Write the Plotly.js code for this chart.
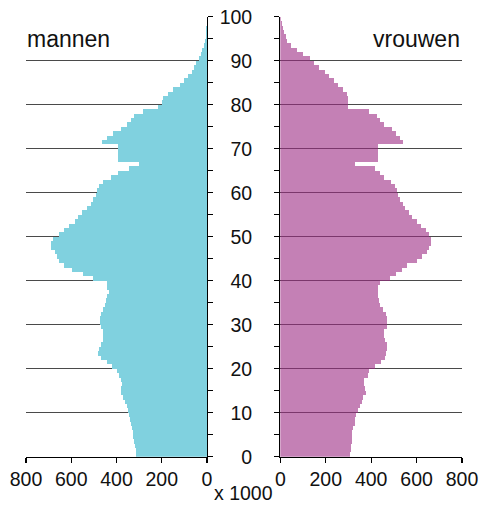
<!DOCTYPE html>
<html><head><meta charset="utf-8">
<script src="https://cdn.plot.ly/plotly-3.0.1.min.js"></script>
<style>html,body{margin:0;padding:0;background:#fff}#chart{width:481px;height:507px}</style>
</head><body><div id="chart"></div>
<script>
const ages = [0,1,2,3,4,5,6,7,8,9,10,11,12,13,14,15,16,17,18,19,20,21,22,23,24,25,26,27,28,29,
  30,31,32,33,34,35,36,37,38,39,40,41,42,43,44,45,46,47,48,49,50,51,52,53,54,55,56,57,58,59,
  60,61,62,63,64,65,66,67,68,69,70,71,72,73,74,75,76,77,78,79,80,81,82,83,84,85,86,87,88,89,
  90,91,92,93,94,95,96,97,98,99];
const mannen = [316,316,318,322,326,326,330,336,340,344,
  350,354,362,372,382,380,376,382,388,400,
  420,440,468,480,476,468,460,458,460,468,
  472,473,470,460,452,445,440,434,440,442,
  505,550,595,630,652,662,672,688,690,682,
  655,630,608,585,568,552,532,512,502,492,
  485,478,460,425,395,345,302,392,392,392,
  392,465,440,415,380,355,335,322,281,215,
  200,193,172,150,120,100,82,68,56,47,
  36,28,20,14,10,6,4,3,2,1];
const vrouwen = [308,310,312,316,316,316,320,328,330,332,
  342,350,360,365,378,375,368,370,385,392,
  415,445,460,465,471,468,460,456,456,468,
  471,471,465,452,440,435,432,430,432,440,
  485,510,535,560,600,625,645,655,665,665,
  655,640,620,600,580,565,550,540,528,520,
  515,505,488,455,440,415,330,430,430,430,
  430,540,525,510,490,455,440,425,392,300,
  298,298,295,275,255,235,215,195,172,150,
  130,100,72,45,30,24,18,12,7,4];
const xTickVals = [0,200,400,600,800];
const ageTickVals = [0,10,20,30,40,50,60,70,80,90,100];
const labelMen = 'mannen';
const labelWomen = 'vrouwen';
const labelUnit = 'x 1000';

const W = 481, H = 507;
const FONT = 'Liberation Sans, Arial, sans-serif';
const px = v => v / W;
const py = v => 1 - v / H;

const traces = [
  {type:'bar', orientation:'h', x:mannen, y:ages, xaxis:'x', yaxis:'y',
   width:1, offset:0, marker:{color:'#80d1df', line:{width:0}}, hoverinfo:'skip'},
  {type:'bar', orientation:'h', x:vrouwen, y:ages, xaxis:'x2', yaxis:'y2',
   width:1, offset:0, marker:{color:'rgba(157,43,132,0.6)', line:{width:0}}, hoverinfo:'skip'}
];

const yDomain = [1 - 456.7 / H, 1 - 16.7 / H];
const common = {
  ticks:'outside', ticklen:5, tickwidth:1.2, tickcolor:'#000',
  showline:true, linecolor:'#000', linewidth:1.2, zeroline:false,
  tickfont:{family:FONT, size:19.5, color:'#111'}
};

const layout = {
  width:W, height:H, margin:{l:0,r:0,t:0,b:0},
  paper_bgcolor:'#fff', plot_bgcolor:'rgba(0,0,0,0)',
  showlegend:false, bargap:0, font:{family:FONT, color:'#111'},
  xaxis: Object.assign({}, common, {domain:[px(26), px(207)], range:[800,0], anchor:'y',
    tickmode:'array', tickvals:xTickVals, showgrid:false}),
  xaxis2: Object.assign({}, common, {domain:[px(280.3), px(462)], range:[0,800], anchor:'y2',
    tickmode:'array', tickvals:xTickVals, showgrid:false}),
  yaxis: Object.assign({}, common, {domain:yDomain, range:[0,100], anchor:'x', side:'right',
    tickmode:'array', tickvals:ageTickVals, showticklabels:false,
    showgrid:true, gridcolor:'#4a4a4a', gridwidth:1,
    minor:{dtick:5, tick0:0, ticks:'outside', ticklen:5, tickcolor:'#000', showgrid:false}}),
  yaxis2: Object.assign({}, common, {domain:yDomain, range:[0,100], anchor:'x2', side:'left',
    tickmode:'array', tickvals:ageTickVals, showticklabels:true, ticklabelstandoff:18,
    showgrid:true, gridcolor:'#4a4a4a', gridwidth:1,
    minor:{dtick:5, tick0:0, ticks:'outside', ticklen:5, tickcolor:'#000', showgrid:false}}),
  annotations: [
    {text:labelMen, xref:'paper', yref:'paper', x:px(25), y:py(38.5), xanchor:'left', yanchor:'middle',
     showarrow:false, font:{family:FONT, size:23, color:'#111'}},
    {text:labelWomen, xref:'paper', yref:'paper', x:px(462), y:py(38.5), xanchor:'right', yanchor:'middle',
     showarrow:false, font:{family:FONT, size:23, color:'#111'}},
    {text:labelUnit, xref:'paper', yref:'paper', x:px(243), y:py(493), xanchor:'center', yanchor:'middle',
     showarrow:false, font:{family:FONT, size:19.5, color:'#111'}}
  ]
};

Plotly.newPlot('chart', traces, layout, {staticPlot:true, displayModeBar:false});
</script>
</body></html>
